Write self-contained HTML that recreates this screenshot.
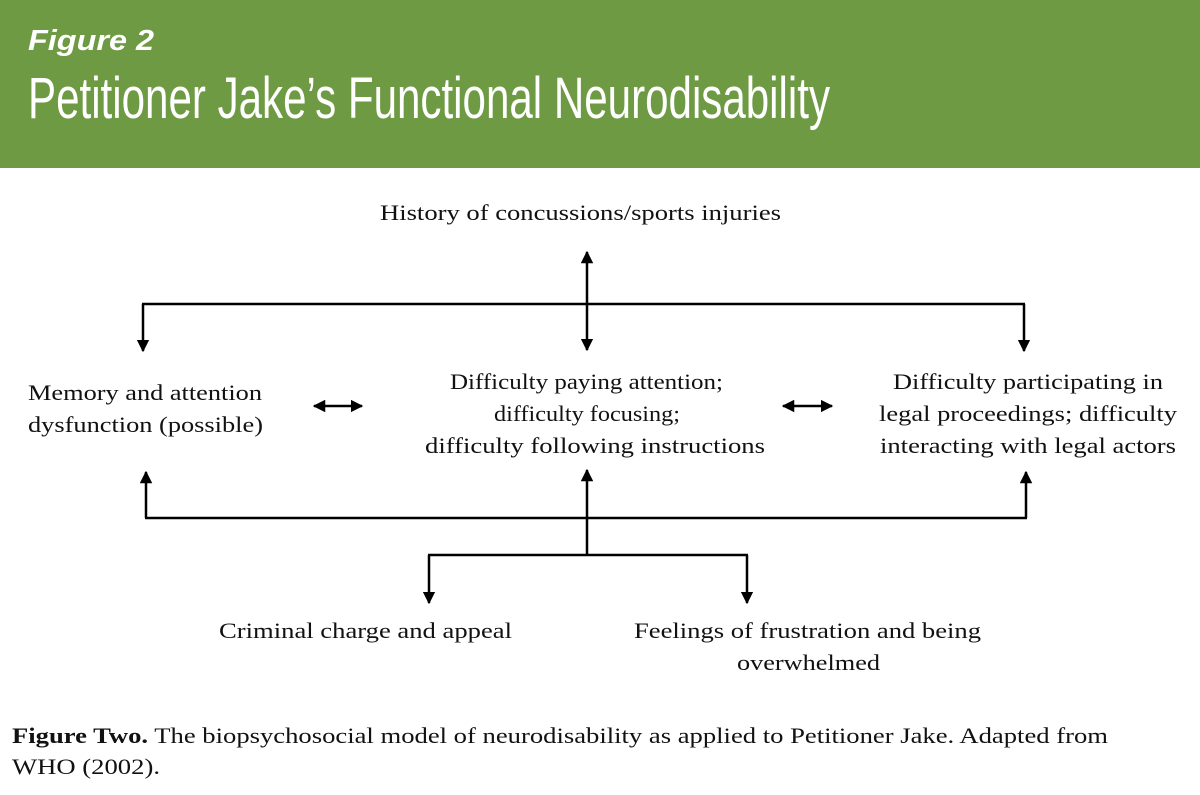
<!DOCTYPE html>
<html><head><meta charset="utf-8"><style>
html,body{margin:0;padding:0;background:#fff;width:1200px;height:795px;overflow:hidden}
</style></head><body>
<svg width="1200" height="795" viewBox="0 0 1200 795" xmlns="http://www.w3.org/2000/svg">
<defs>
<marker id="a" viewBox="0 0 10 10" refX="9" refY="5" markerWidth="5" markerHeight="5" orient="auto-start-reverse"><path d="M0,0 L10,5 L0,10 z" fill="#000"/></marker>
</defs>
<rect x="0" y="0" width="1200" height="168" fill="#6e9a43"/>
<text x="28" y="50" font-family="Liberation Sans, sans-serif" font-weight="bold" font-style="italic" font-size="29" fill="#fff" textLength="126" lengthAdjust="spacingAndGlyphs">Figure 2</text>
<text x="28" y="118" font-family="Liberation Sans, sans-serif" font-size="58" fill="#fff" textLength="802" lengthAdjust="spacingAndGlyphs">Petitioner Jake’s Functional Neurodisability</text>

<g stroke="#000" stroke-width="2.5" fill="none">
<line x1="142" y1="304" x2="1025" y2="304"/>
<line x1="587" y1="350" x2="587" y2="252" marker-end="url(#a)" marker-start="url(#a)"/>
<polyline points="143,304 143,351" marker-end="url(#a)"/>
<polyline points="1024,304 1024,351" marker-end="url(#a)"/>
<line x1="314" y1="406" x2="362" y2="406" marker-end="url(#a)" marker-start="url(#a)"/>
<line x1="783" y1="406" x2="832" y2="406" marker-end="url(#a)" marker-start="url(#a)"/>
<line x1="145" y1="518" x2="1027" y2="518"/>
<line x1="146" y1="518" x2="146" y2="472" marker-end="url(#a)"/>
<line x1="1026" y1="518" x2="1026" y2="472" marker-end="url(#a)"/>
<line x1="587" y1="555" x2="587" y2="470" marker-end="url(#a)"/>
<line x1="428" y1="555" x2="748" y2="555"/>
<line x1="429" y1="555" x2="429" y2="603" marker-end="url(#a)"/>
<line x1="747" y1="555" x2="747" y2="603" marker-end="url(#a)"/>
</g>

<g font-family="Liberation Serif, serif" font-size="22" fill="#111" lengthAdjust="spacingAndGlyphs">
<text x="380" y="220" textLength="401" lengthAdjust="spacingAndGlyphs">History of concussions/sports injuries</text>
<text x="28" y="400" textLength="234" lengthAdjust="spacingAndGlyphs">Memory and attention</text>
<text x="28" y="432" textLength="235" lengthAdjust="spacingAndGlyphs">dysfunction (possible)</text>
<text x="450" y="389" textLength="273" lengthAdjust="spacingAndGlyphs">Difficulty paying attention;</text>
<text x="494" y="421" textLength="186" lengthAdjust="spacingAndGlyphs">difficulty focusing;</text>
<text x="425" y="453" textLength="340" lengthAdjust="spacingAndGlyphs">difficulty following instructions</text>
<text x="893" y="389" textLength="270" lengthAdjust="spacingAndGlyphs">Difficulty participating in</text>
<text x="879" y="421" textLength="298" lengthAdjust="spacingAndGlyphs">legal proceedings; difficulty</text>
<text x="880" y="453" textLength="296" lengthAdjust="spacingAndGlyphs">interacting with legal actors</text>
<text x="219" y="638" textLength="293" lengthAdjust="spacingAndGlyphs">Criminal charge and appeal</text>
<text x="634" y="638" textLength="347" lengthAdjust="spacingAndGlyphs">Feelings of frustration and being</text>
<text x="737" y="670" textLength="143" lengthAdjust="spacingAndGlyphs">overwhelmed</text>
<text x="12" y="743" textLength="1096" lengthAdjust="spacingAndGlyphs"><tspan font-weight="bold">Figure Two.</tspan> The biopsychosocial model of neurodisability as applied to Petitioner Jake. Adapted from</text>
<text x="12" y="774" textLength="148" lengthAdjust="spacingAndGlyphs">WHO (2002).</text>
</g>
</svg>
</body></html>
